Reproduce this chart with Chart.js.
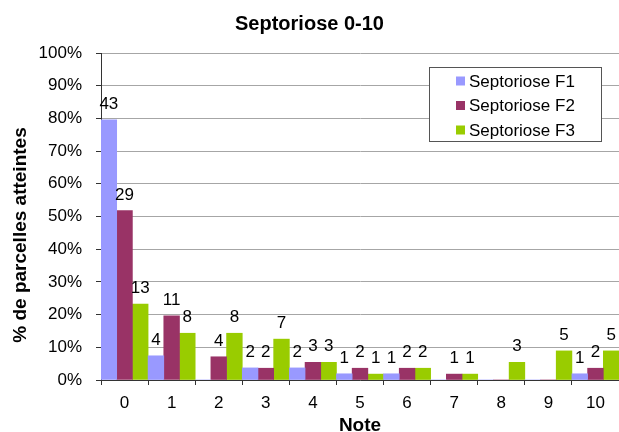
<!DOCTYPE html>
<html>
<head>
<meta charset="utf-8">
<script src="https://cdn.jsdelivr.net/npm/chart.js@4/dist/chart.umd.min.js"></script>
<style>
  html, body { margin: 0; padding: 0; background: #fff; }
  #wrap { width: 619px; height: 432px; }
</style>
</head>
<body>
<div id="wrap"><canvas id="myCanvas" width="619" height="432"></canvas></div>
<script>
// notes 0..10
const categories = ["0", "1", "2", "3", "4", "5", "6", "7", "8", "9", "10"];

// number of plots (shown above the bars)
const f1Counts = [43, 4, 0, 2, 2, 1, 1, 0, 0, 0, 1];
const f2Counts = [29, 11, 4, 2, 3, 2, 2, 1, 0, 0, 2];
const f3Counts = [13, 8, 8, 7, 3, 1, 2, 1, 3, 5, 5];

// % of plots (bar heights)
const f1Pct = [79.6, 7.4, 0, 3.7, 3.7, 1.9, 1.9, 0, 0, 0, 1.9];
const f2Pct = [51.8, 19.6, 7.1, 3.6, 5.4, 3.6, 3.6, 1.8, 0, 0, 3.6];
const f3Pct = [23.2, 14.3, 14.3, 12.5, 5.4, 1.8, 3.6, 1.8, 5.4, 8.9, 8.9];

const seriesNames = ["Septoriose F1", "Septoriose F2", "Septoriose F3"];
const seriesColors = ["#9999ff", "#993366", "#99cc00"];
const yMax = 100;
const yStep = 10;

const FONT = "'Liberation Sans', Arial, sans-serif";
Chart.defaults.font.family = FONT;
Chart.defaults.color = "#000";

// count labels over the bars
const countLabels = {
  id: "countLabels",
  afterDatasetsDraw(chart) {
    const ctx = chart.ctx;
    ctx.save();
    ctx.font = "17px " + FONT;
    ctx.fillStyle = "#000";
    ctx.textAlign = "center";
    ctx.textBaseline = "alphabetic";
    chart.data.datasets.forEach((ds, i) => {
      const meta = chart.getDatasetMeta(i);
      meta.data.forEach((bar, j) => {
        const n = ds.counts[j];
        if (!n) return;
        ctx.fillText(String(n), bar.x, bar.y - 11);
      });
    });
    ctx.restore();
  },
};

// axis titles + boxed legend inside the plot
const extras = {
  id: "extras",
  afterDraw(chart) {
    const ctx = chart.ctx;
    const area = chart.chartArea;
    ctx.save();
    ctx.fillStyle = "#000";
    ctx.font = "bold 19px " + FONT;
    ctx.textAlign = "center";
    ctx.textBaseline = "alphabetic";
    ctx.fillText("Note", (area.left + area.right) / 2, 431);

    ctx.save();
    ctx.translate(26, 235);
    ctx.rotate(-Math.PI / 2);
    ctx.fillText("% de parcelles atteintes", 0, 0);
    ctx.restore();

    // legend
    const lx = 429.5, ly = 67.5, lw = 172, lh = 74;
    ctx.fillStyle = "#fff";
    ctx.fillRect(lx, ly, lw, lh);
    ctx.strokeStyle = "#555";
    ctx.lineWidth = 1;
    ctx.strokeRect(lx, ly, lw, lh);
    ctx.font = "17px " + FONT;
    ctx.textAlign = "left";
    ctx.textBaseline = "middle";
    chart.data.datasets.forEach((ds, i) => {
      const cy = 81 + i * 24.5;
      ctx.fillStyle = ds.backgroundColor;
      ctx.fillRect(456, cy - 4.5, 9, 9);
      ctx.fillStyle = "#000";
      ctx.fillText(ds.label, 469, cy + 1);
    });
    ctx.restore();
  },
};

const pctSeries = [f1Pct, f2Pct, f3Pct];
const countSeries = [f1Counts, f2Counts, f3Counts];

new Chart(document.getElementById("myCanvas"), {
  type: "bar",
  data: {
    labels: categories,
    datasets: seriesNames.map((name, i) => ({
      label: name,
      data: pctSeries[i],
      counts: countSeries[i],
      backgroundColor: seriesColors[i],
      borderWidth: 0,
      categoryPercentage: 1.0,
      barPercentage: 1.0,
    })),
  },
  options: {
    responsive: false,
    animation: false,
    layout: { padding: { left: 0, right: 0, top: 0, bottom: 0 } },
    plugins: {
      legend: { display: false },
      tooltip: { enabled: false },
      title: {
        display: true,
        text: "Septoriose 0-10",
        color: "#000",
        font: { size: 20, weight: "bold" },
        padding: { top: 12, bottom: 17 },
      },
    },
    scales: {
      x: {
        afterFit: (s) => { s.height = 52; },
        grid: {
          display: true,
          drawOnChartArea: false,
          offset: true,
          tickLength: 5,
          tickColor: "#333",
        },
        border: { display: true, color: "#333", width: 1 },
        ticks: { font: { size: 17 }, padding: 8, color: "#000" },
      },
      y: {
        min: 0,
        max: yMax,
        afterFit: (s) => { s.width = 101; },
        grid: {
          color: "#a6a6a6",
          tickLength: 5,
          tickColor: "#333",
        },
        border: { display: true, color: "#333", width: 1 },
        ticks: {
          stepSize: yStep,
          padding: 14,
          font: { size: 17 },
          color: "#000",
          callback: (v) => v + "%",
        },
      },
    },
  },
  plugins: [countLabels, extras],
});
</script>
</body>
</html>
